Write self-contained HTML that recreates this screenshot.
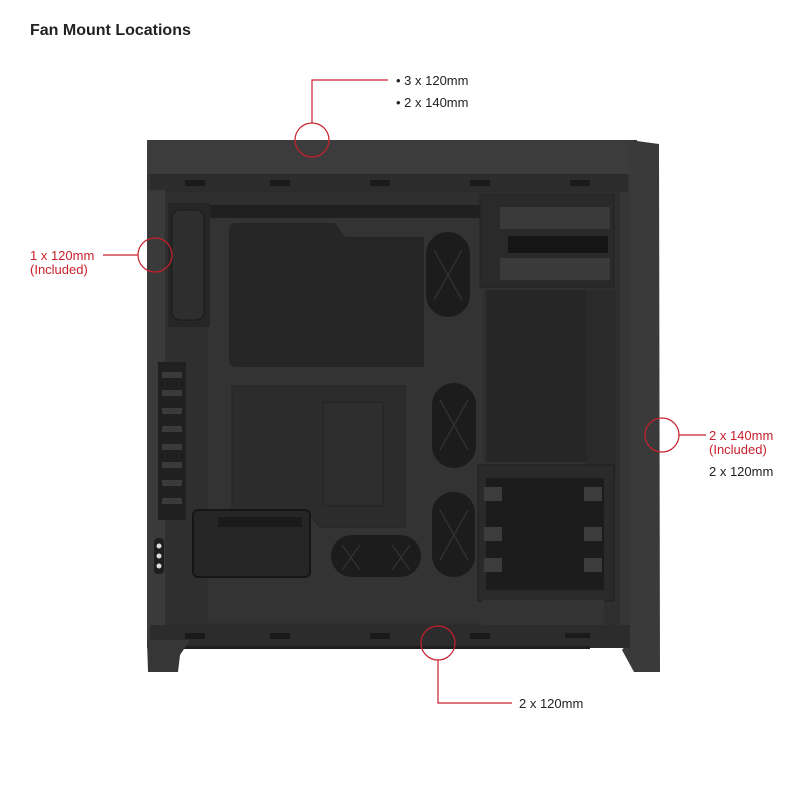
<!DOCTYPE html>
<html><head><meta charset="utf-8"><style>
body{margin:0;background:#fff;width:800px;height:800px;overflow:hidden}
svg{display:block}
text{font-family:"Liberation Sans",sans-serif}
</style></head><body>
<svg width="800" height="800" viewBox="0 0 800 800" xmlns="http://www.w3.org/2000/svg">
<text x="30" y="35" font-size="16" font-weight="bold" fill="#222">Fan Mount Locations</text>
<!-- case body -->
<rect x="147" y="140" width="490" height="508" fill="#363636"/>
<path d="M630 140 L659 144 L660 672 L634 672 L622 650 L630 640 Z" fill="#3a3a3a"/>
<rect x="147" y="140" width="483" height="34" fill="#3c3c3c"/>
<rect x="150" y="174" width="478" height="18" fill="#2c2c2c"/>
<rect x="147" y="190" width="18" height="455" fill="#3a3a3a"/>
<!-- interior tray -->
<rect x="165" y="192" width="455" height="433" fill="#2f2f2f"/>
<rect x="205" y="205" width="280" height="14" fill="#202020"/>
<rect x="208" y="218" width="275" height="405" fill="#333"/>
<path d="M236 223 H335 L345 237 H424 V367 H236 Q229 367 229 360 V230 Q229 223 236 223Z" fill="#262626"/>
<path d="M232 386 H405 V527 H320 L305 510 H232 Z" fill="#2c2c2c" stroke="#242424"/>
<rect x="323" y="402" width="60" height="104" rx="3" fill="#2e2e2e" stroke="#222"/>
<rect x="426" y="232" width="44" height="85" rx="22" fill="#1c1c1c"/>
<rect x="432" y="383" width="44" height="85" rx="22" fill="#1c1c1c"/>
<rect x="432" y="492" width="43" height="85" rx="21" fill="#1c1c1c"/>
<rect x="331" y="535" width="90" height="42" rx="21" fill="#1c1c1c"/>
<g stroke="#383838" stroke-width="1">
<path d="M434 250 L462 300 M462 250 L434 300"/>
<path d="M440 400 L468 450 M468 400 L440 450"/>
<path d="M440 510 L468 560 M468 510 L440 560"/>
<path d="M342 545 L360 570 M360 545 L342 570 M392 545 L410 570 M410 545 L392 570"/>
</g>
<rect x="193" y="510" width="117" height="67" rx="5" fill="#262626" stroke="#161616" stroke-width="2"/>
<rect x="218" y="517" width="84" height="10" fill="#1a1a1a"/>
<rect x="168" y="203" width="42" height="124" fill="#262626"/>
<rect x="172" y="210" width="32" height="110" rx="8" fill="#2e2e2e" stroke="#1a1a1a"/>
<rect x="158" y="362" width="28" height="158" fill="#202020"/>
<g fill="#3a3a3a"><rect x="162" y="372" width="20" height="6"/><rect x="162" y="390" width="20" height="6"/><rect x="162" y="408" width="20" height="6"/><rect x="162" y="426" width="20" height="6"/><rect x="162" y="444" width="20" height="6"/><rect x="162" y="462" width="20" height="6"/><rect x="162" y="480" width="20" height="6"/><rect x="162" y="498" width="20" height="6"/></g>
<rect x="154" y="538" width="10" height="36" rx="4" fill="#1e1e1e"/>
<g fill="#ddd"><circle cx="159" cy="546" r="2.5"/><circle cx="159" cy="556" r="2.5"/><circle cx="159" cy="566" r="2.5"/></g>
<rect x="480" y="195" width="134" height="92" fill="#2a2a2a" stroke="#222"/>
<rect x="500" y="207" width="110" height="22" fill="#3a3a3a"/>
<rect x="508" y="236" width="100" height="17" fill="#151515"/>
<rect x="500" y="258" width="110" height="22" fill="#3a3a3a"/>
<rect x="486" y="290" width="100" height="172" fill="#262626"/>
<rect x="586" y="290" width="30" height="190" fill="#2a2a2a"/>
<rect x="478" y="465" width="136" height="136" fill="#2a2a2a" stroke="#1e1e1e"/>
<rect x="486" y="478" width="118" height="112" fill="#1c1c1c"/>
<g fill="#3c3c3c"><rect x="484" y="487" width="18" height="14"/><rect x="584" y="487" width="18" height="14"/><rect x="484" y="527" width="18" height="14"/><rect x="584" y="527" width="18" height="14"/><rect x="484" y="558" width="18" height="14"/><rect x="584" y="558" width="18" height="14"/></g>
<rect x="482" y="600" width="122" height="25" fill="#333"/>
<!-- bottom rail -->
<rect x="150" y="625" width="480" height="23" fill="#2c2c2c"/>
<rect x="170" y="646" width="420" height="3" fill="#1e1e1e"/>
<!-- feet -->
<path d="M147 640 H190 L180 655 L178 672 H148 Z" fill="#363636"/>
<g fill="#1a1a1a"><rect x="185" y="180" width="20" height="6"/><rect x="270" y="180" width="20" height="6"/><rect x="370" y="180" width="20" height="6"/><rect x="470" y="180" width="20" height="6"/><rect x="570" y="180" width="20" height="6"/>
<rect x="185" y="633" width="20" height="6"/><rect x="270" y="633" width="20" height="6"/><rect x="370" y="633" width="20" height="6"/><rect x="470" y="633" width="20" height="6"/><rect x="565" y="633" width="25" height="5"/></g>
<!-- callouts -->
<g fill="none" stroke="#c8202c" stroke-width="1.2">
<circle cx="312" cy="140" r="17"/>
<path d="M312 123 V80 H388"/>
<circle cx="155" cy="255" r="17"/>
<path d="M103 255 H138"/>
<circle cx="662" cy="435" r="17"/>
<path d="M679 435 H706"/>
<circle cx="438" cy="643" r="17"/>
<path d="M438 660 V703 H512"/>
</g>
<g font-size="13">
<text x="396" y="85" fill="#222">• 3 x 120mm</text>
<text x="396" y="107" fill="#222">• 2 x 140mm</text>
<text x="30" y="260" fill="#c8202c">1 x 120mm</text>
<text x="30" y="274" fill="#c8202c">(Included)</text>
<text x="709" y="440" fill="#c8202c">2 x 140mm</text>
<text x="709" y="454" fill="#c8202c">(Included)</text>
<text x="709" y="476" fill="#222">2 x 120mm</text>
<text x="519" y="708" fill="#222">2 x 120mm</text>
</g>
</svg>
</body></html>
